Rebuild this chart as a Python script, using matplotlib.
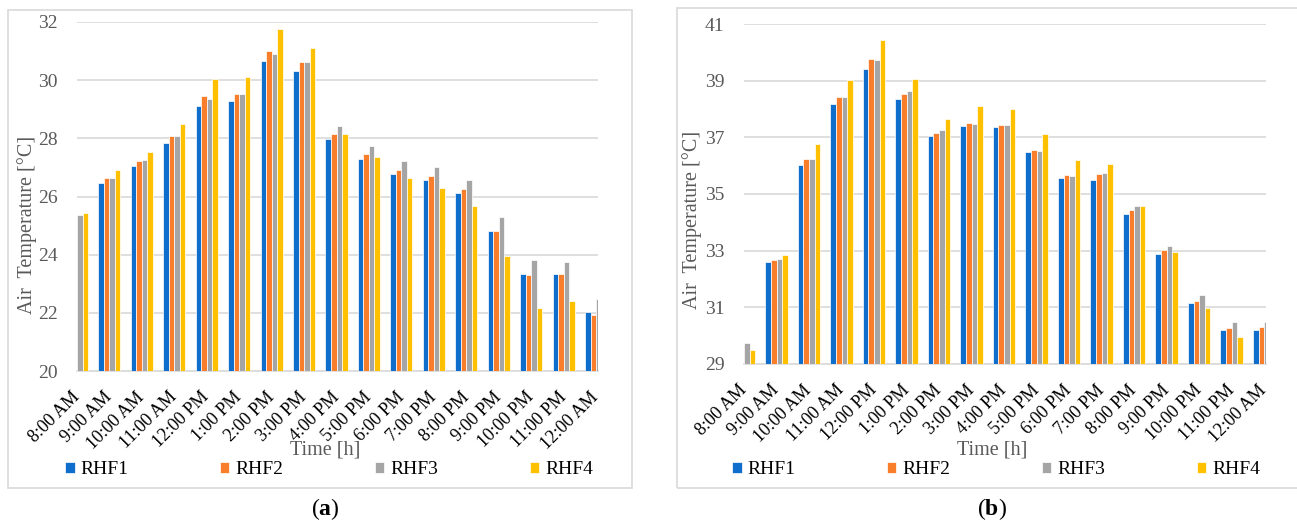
import numpy as np
import matplotlib
matplotlib.use("Agg")
import matplotlib.pyplot as plt
from matplotlib.patches import Rectangle

plt.rcParams["font.family"] = ["Liberation Serif", "DejaVu Serif"]
plt.rcParams["mathtext.fontset"] = "custom"
plt.rcParams["mathtext.rm"] = "Liberation Serif"
plt.rcParams["mathtext.bf"] = "Liberation Serif:bold"

hours = ["8:00 AM", "9:00 AM", "10:00 AM", "11:00 AM", "12:00 PM", "1:00 PM",
         "2:00 PM", "3:00 PM", "4:00 PM", "5:00 PM", "6:00 PM", "7:00 PM",
         "8:00 PM", "9:00 PM", "10:00 PM", "11:00 PM", "12:00 AM"]
series_names = ["RHF1", "RHF2", "RHF3", "RHF4"]

# (a) air temperature per roof configuration
a_rhf1 = [25.20, 26.45, 27.04, 27.85, 29.10, 29.27, 30.65, 30.30, 27.99, 27.29,
          26.77, 26.57, 26.13, 24.80, 23.32, 23.32, 22.04]
a_rhf2 = [25.30, 26.65, 27.23, 28.07, 29.44, 29.54, 31.02, 30.61, 28.15, 27.46,
          26.91, 26.72, 26.25, 24.82, 23.30, 23.32, 21.93]
a_rhf3 = [25.36, 26.65, 27.27, 28.07, 29.35, 29.54, 30.91, 30.61, 28.43, 27.72,
          27.21, 27.01, 26.57, 25.29, 23.82, 23.75, 22.47]
a_rhf4 = [25.42, 26.90, 27.52, 28.50, 30.05, 30.10, 31.75, 31.10, 28.15, 27.36,
          26.62, 26.29, 25.68, 23.96, 22.18, 22.40, 21.60]

# (b) air temperature per roof configuration
b_rhf1 = [29.60, 32.60, 36.03, 38.16, 39.41, 38.36, 37.06, 37.40, 37.38, 36.48,
          35.56, 35.48, 34.28, 32.89, 31.15, 30.21, 30.21]
b_rhf2 = [29.65, 32.66, 36.22, 38.41, 39.75, 38.52, 37.17, 37.52, 37.44, 36.56,
          35.68, 35.71, 34.45, 33.03, 31.23, 30.27, 30.29]
b_rhf3 = [29.75, 32.71, 36.22, 38.41, 39.72, 38.65, 37.25, 37.46, 37.42, 36.52,
          35.64, 35.75, 34.56, 33.17, 31.44, 30.47, 30.47]
b_rhf4 = [29.49, 32.86, 36.77, 39.01, 40.44, 39.07, 37.63, 38.12, 38.01, 37.10,
          36.21, 36.05, 34.58, 32.97, 30.97, 29.95, 30.00]

colors = ["#0F6DCC", "#F97E2C", "#A5A5A5", "#FFC000"]
grid_col = "#D9D9D9"
text_col = "#595959"

W, H = 1297, 527
fig = plt.figure(figsize=(W / 100, H / 100), dpi=100)


def px_box(x0, y0, x1, y1):
    # pixel box (top-left origin) -> figure fraction [left, bottom, width, height]
    return [x0 / W, 1 - y1 / H, (x1 - x0) / W, (y1 - y0) / H]


def draw_panel(rect, data, yticks, ylabel_pos):
    ax = fig.add_axes(rect)
    x = np.arange(len(hours))
    w = 0.17
    offsets = (np.arange(4) - 1.5) * w
    for vals, off, c, name in zip(data, offsets, colors, series_names):
        ax.bar(x + off, np.array(vals) - yticks[0], w, bottom=yticks[0],
               color=c, edgecolor="white", linewidth=0.5, label=name, zorder=3)
    ax.set_xlim(0, len(hours) - 1 + 0.06)
    ax.set_ylim(yticks[0], yticks[-1])
    ax.set_yticks(yticks)
    ax.set_xticks(x)
    ax.set_xticklabels(hours, rotation=45, ha="right", va="center",
                       rotation_mode="anchor", fontsize=13, color="black")
    ax.tick_params(axis="y", length=0, pad=14, labelsize=14, labelcolor=text_col)
    ax.tick_params(axis="x", length=0, pad=17)
    ax.grid(axis="y", color=grid_col, linewidth=1.2, zorder=0)
    for s in ["top", "right", "left"]:
        ax.spines[s].set_visible(False)
    ax.spines["bottom"].set_color(grid_col)
    ax.spines["bottom"].set_linewidth(1.2)
    ax.set_ylabel("Air  Temperature [°C]", fontsize=14.5, color=text_col)
    ax.yaxis.set_label_coords(*ylabel_pos)
    return ax


ax_a = draw_panel(px_box(77, 22, 598, 371), [a_rhf1, a_rhf2, a_rhf3, a_rhf4],
                  [20, 22, 24, 26, 28, 30, 32], (-0.077, 0.418))
ax_b = draw_panel(px_box(744, 24, 1266, 364), [b_rhf1, b_rhf2, b_rhf3, b_rhf4],
                  [29, 31, 33, 35, 37, 39, 41], (-0.081, 0.424))

# panel frames
for box in [px_box(8, 10, 632, 488), px_box(677, 8, 1310, 488)]:
    fig.add_artist(Rectangle((box[0], box[1]), box[2], box[3],
                             transform=fig.transFigure, fill=False,
                             edgecolor=grid_col, linewidth=1.2))

for ax, cx, tag in [(ax_a, 325, "a"), (ax_b, 992, "b")]:
    fig.text(cx / W, 1 - 450 / H, "Time [h]", ha="center", va="center",
             fontsize=14.5, color=text_col)
    handles, labels = ax.get_legend_handles_labels()
    fig.legend(handles, labels, ncol=4, loc="center",
               bbox_to_anchor=(cx / W + 0.003, 1 - 470 / H), frameon=False,
               fontsize=14, handlelength=0.5, handleheight=0.5,
               handletextpad=0.3, columnspacing=4.7)
    fig.text(cx / W, 1 - 509 / H, "(" + r"$\mathbf{" + tag + "}$" + ")",
             ha="center", va="center", fontsize=17)

fig.savefig("out.png", dpi=100)
